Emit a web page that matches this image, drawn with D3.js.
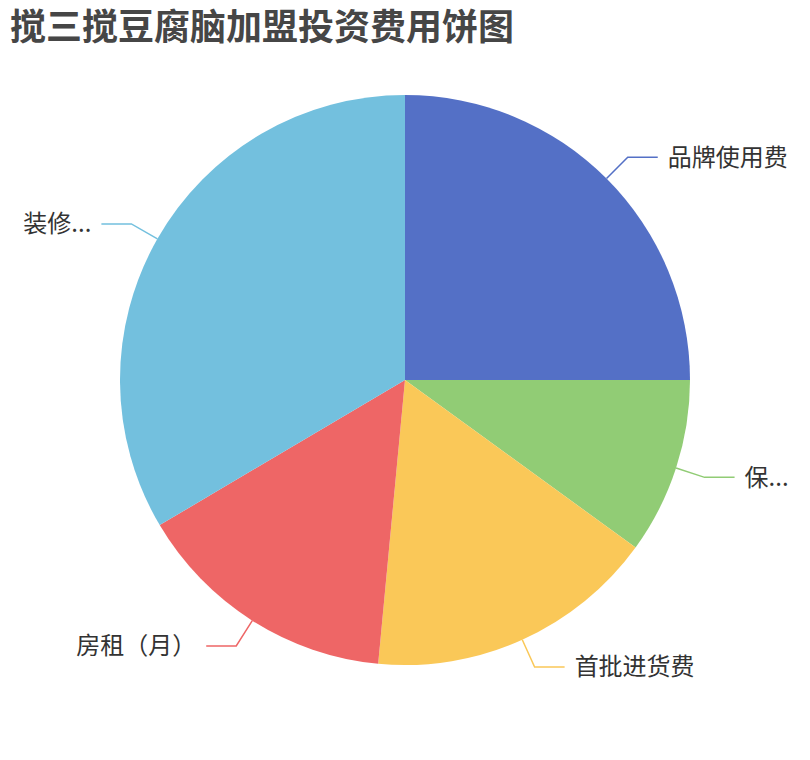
<!DOCTYPE html>
<html lang="zh">
<head>
  <meta charset="UTF-8">
  <title>搅三搅豆腐脑加盟投资费用饼图</title>
  <script src="https://d3js.org/d3.v7.min.js"></script>
  <style>
    html, body { margin: 0; padding: 0; background: #fff; }
    #chart { width: 810px; height: 760px; }
    text { font-family: "Noto Sans CJK SC", "Noto Sans", sans-serif; }
  </style>
</head>
<body>
  <div id="chart"></div>
  <script>
    // pie data (labels as drawn, long names get cut at the edge)
    const names = ['品牌使用费', '保证金', '首批进货费', '房租（月）', '装修费用'];
    const shownLabels = ['品牌使用费', '保...', '首批进货费', '房租（月）', '装修...'];
    const values = [25, 10, 16.5, 15, 33.5];
    const colors = ['#5470c6', '#91cc75', '#fac858', '#ee6666', '#73c0de'];

    const width = 810, height = 760;
    const cx = 405, cy = 380, radius = 285;
    const len1 = 30, len2 = 30, gap = 10;

    const svg = d3.select('#chart')
      .append('svg')
      .attr('width', width)
      .attr('height', height);

    svg.append('text')
      .attr('x', 10)
      .attr('y', 27)
      .attr('dy', '0.35em')
      .attr('font-size', 36)
      .attr('font-weight', 'bold')
      .attr('fill', '#464646')
      .text('搅三搅豆腐脑加盟投资费用饼图');

    const pie = d3.pie().sort(null).value(d => d.value);
    const arcs = pie(names.map((n, i) => ({ name: n, label: shownLabels[i], value: values[i], color: colors[i] })));

    const arc = d3.arc().innerRadius(0).outerRadius(radius);

    const g = svg.append('g').attr('transform', `translate(${cx},${cy})`);

    g.selectAll('path.slice')
      .data(arcs)
      .enter()
      .append('path')
      .attr('class', 'slice')
      .attr('d', arc)
      .attr('fill', d => d.data.color);

    // label lines: radial segment then horizontal segment
    function pts(d) {
      const a = (d.startAngle + d.endAngle) / 2;
      const s = Math.sin(a), c = -Math.cos(a);
      const p0 = [radius * s, radius * c];
      const p1 = [(radius + len1) * s, (radius + len1) * c];
      const dir = s >= 0 ? 1 : -1;
      const p2 = [p1[0] + dir * len2, p1[1]];
      return { p0, p1, p2, dir };
    }

    g.selectAll('polyline')
      .data(arcs)
      .enter()
      .append('polyline')
      .attr('points', d => { const p = pts(d); return [p.p0, p.p1, p.p2].map(q => q.join(',')).join(' '); })
      .attr('fill', 'none')
      .attr('stroke', d => d.data.color)
      .attr('stroke-width', 1.5);

    g.selectAll('text.label')
      .data(arcs)
      .enter()
      .append('text')
      .attr('class', 'label')
      .attr('x', d => { const p = pts(d); return p.p2[0] + p.dir * gap; })
      .attr('y', d => pts(d).p2[1])
      .attr('dy', '0.35em')
      .attr('text-anchor', d => pts(d).dir > 0 ? 'start' : 'end')
      .attr('font-size', 24)
      .attr('fill', '#333')
      .text(d => d.data.label);
  </script>
</body>
</html>
